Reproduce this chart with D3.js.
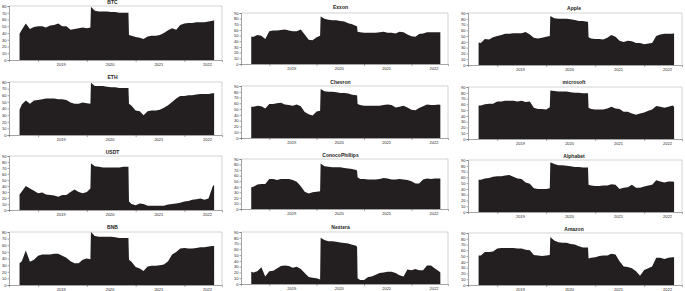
<!DOCTYPE html>
<html>
<head>
<meta charset="utf-8">
<script src="https://cdn.jsdelivr.net/npm/d3@7"></script>
<style>
  body { margin: 0; background: #fff; }
  svg { display: block; }
  text { font-family: "Liberation Sans", Arial, sans-serif; }
</style>
</head>
<body>
<div id="chart"></div>
<script>
// shared dates (monthly, plus the days round the two jumps)
var dates = ["2018-08-15","2018-09-01","2018-10-01","2018-11-01","2018-12-01",
  "2019-01-01","2019-02-01","2019-03-01","2019-04-01","2019-05-01","2019-06-01",
  "2019-07-01","2019-08-01","2019-09-01","2019-10-01","2019-11-01","2019-12-01",
  "2020-01-01","2020-01-28","2020-02-01",
  "2020-03-01","2020-04-01","2020-05-01","2020-06-01","2020-07-01","2020-08-01",
  "2020-09-01","2020-10-01","2020-11-01",
  "2020-11-08","2020-11-12",
  "2020-12-01","2021-01-01","2021-02-01","2021-03-01","2021-04-01","2021-05-01",
  "2021-06-01","2021-07-01","2021-08-01","2021-09-01","2021-10-01","2021-11-01","2021-12-01",
  "2022-01-01","2022-02-01","2022-03-01","2022-04-01","2022-05-01","2022-06-01",
  "2022-07-01","2022-08-01","2022-08-12"];

var btc = [39,45,54,46,49, 50,50,48,51,52,54,50,50,45,46,47,48, 47,48,79,
  73,72,72,72,71,71,70,70,70, 70,37, 36,34,33,31,35,36,36,37,40,44,47,45,52,
  54,55,55,56,56,56,57,58,59];
var eth = [38,46,52,47,52, 53,54,55,55,55,54,54,53,49,47,47,49, 48,47,79,
  74,74,74,73,72,72,71,71,71, 71,47, 44,37,36,30,36,37,37,38,41,45,50,55,59,
  59,60,60,61,62,62,62,63,63];
var usdt = [26,31,40,36,32, 28,29,26,25,24,22,25,25,30,34,30,28, 30,36,78,
  73,72,71,71,71,71,71,72,72, 72,14, 10,8,11,10,7,7,7,7,7,9,10,11,12,
  14,15,17,18,19,17,19,39,42];
var bnb = [33,36,52,35,38, 44,46,46,46,47,47,44,41,36,33,33,38, 40,39,80,
  74,73,73,73,73,72,71,71,71, 71,38, 35,27,25,21,28,29,29,30,31,36,46,50,55,
  56,55,55,56,57,57,58,59,59];
var exxon = [48,48,51,50,44, 58,59,59,60,61,59,58,58,61,52,43,42, 47,50,84,
  80,78,77,77,76,75,72,70,67, 66,57, 56,55,55,55,55,56,57,55,55,54,57,56,52,
  49,48,53,54,56,56,56,56,56];
var chevron = [54,54,56,55,51, 59,59,60,61,58,57,56,58,55,45,41,39, 46,47,85,
  81,80,80,79,78,78,77,75,74, 74,59, 57,56,56,56,56,56,57,58,57,53,54,56,53,
  49,48,52,55,58,57,57,58,57];
var conoco = [39,40,44,45,45, 54,54,52,54,54,54,52,49,41,31,28,30, 31,32,82,
  77,76,75,75,75,74,73,72,70, 69,57, 54,54,53,53,53,54,56,55,53,53,54,53,52,
  50,46,46,53,55,54,55,55,55];
var nextera = [21,20,22,29,13, 22,23,27,31,32,31,28,30,26,19,12,11, 10,8,80,
  76,74,74,73,72,71,70,68,66, 64,10, 7,7,12,13,16,19,20,21,21,19,15,13,25,
  24,26,24,24,32,32,27,22,20];
var apple = [39,38,45,44,48, 50,52,54,54,55,55,55,57,53,47,46,47, 49,50,85,
  81,80,80,80,79,78,76,76,75, 75,48, 46,45,45,44,47,52,49,42,40,42,41,38,38,
  36,37,38,50,53,54,54,54,55];
var microsoft = [58,58,60,61,61, 65,65,66,66,66,65,66,64,65,54,52,52, 51,55,84,
  83,82,82,82,81,80,80,79,79, 79,54, 52,51,51,51,53,56,53,52,47,47,44,42,44,
  46,49,51,57,56,54,56,58,56];
var alphabet = [56,56,58,59,61, 62,62,63,64,61,58,57,51,49,41,40,40, 40,41,86,
  83,81,81,80,79,78,78,77,77, 77,47, 46,45,45,46,46,48,47,40,42,43,47,42,42,
  44,46,47,55,53,51,53,53,52];
var amazon = [51,51,57,57,58, 63,64,64,64,64,63,63,61,60,52,51,50, 51,52,83,
  77,74,73,73,71,70,67,65,65, 65,46, 47,48,50,51,51,54,53,41,32,31,29,24,16,
  26,29,32,47,47,45,47,48,48];

var titles = ["BTC","ETH","USDT","BNB","Exxon","Chevron","ConocoPhillips","Nextera",
  "Apple","microsoft","Alphabet","Amazon"];
var series = [btc,eth,usdt,bnb,exxon,chevron,conoco,nextera,apple,microsoft,alphabet,amazon];
var yMaxes = [80,80,90,80, 90,90,90,90, 90,90,90,90];
var years = ["2019","2020","2021","2022"];

function init () {

    var w = 685;
    var h = 291;
    var fill = "#231f20";

    // layout: column x ranges and each panel's plot top / bottom
    var cols = [[9, 222], [241, 448], [468, 682]];
    var rows = [ [[6,60],[82,135],[156,210],[232,285]],
                 [[13,64],[86,138],[159,209],[232,284]],
                 [[13,65],[87,139],[160,212],[233,285]] ];
    var titleY = [ [4,79,154,229], [9,84,157,229], [10,84,158,231] ];

    var parse = d3.timeParse("%Y-%m-%d");
    var dd = dates.map(parse);
    var tickDates = years.map(function(y) { return new Date(+y, 0, 1); });
    var labelDates = years.map(function(y) { return new Date(+y, 5, 20); });

    var svg = d3.select("#chart")
                .append("svg")
                .attr("width", w)
                .attr("height", h);

    series.forEach(function(vals, i) {
        var c = Math.floor(i / 4);
        var r = i % 4;
        var top = rows[c][r][0];
        var bottom = rows[c][r][1];

        var xScale = d3.scaleTime()
                    .domain([new Date(2018, 4, 28), new Date(2022, 9, 10)])
                    .range(cols[c]);
        var yScale = d3.scaleLinear()
                    .domain([0, yMaxes[i]])
                    .range([bottom, top]);

        var g = svg.append("g");

        // frame (top and right)
        g.append("path")
            .attr("d", "M" + cols[c][0] + "," + top + "H" + cols[c][1] + "V" + bottom)
            .attr("fill", "none")
            .attr("stroke", "#b5b5b5")
            .attr("stroke-width", 0.6);

        var area = d3.area()
                    .x(function(d, k) { return xScale(dd[k]); })
                    .y0(yScale(0))
                    .y1(function(d) { return yScale(d); });

        g.append("path")
            .datum(vals)
            .attr("d", area)
            .attr("fill", fill);

        var yAxis = d3.axisLeft(yScale)
                    .tickValues(d3.range(0, yMaxes[i] + 1, 10))
                    .tickSize(1.5)
                    .tickPadding(1);
        var ya = g.append("g")
            .attr("transform", "translate(" + cols[c][0] + ",0)")
            .call(yAxis);

        var xTicks = d3.axisBottom(xScale)
                    .tickValues(tickDates)
                    .tickSize(2)
                    .tickFormat("");
        var xa = g.append("g")
            .attr("transform", "translate(0," + bottom + ")")
            .call(xTicks);

        var xLabels = d3.axisBottom(xScale)
                    .tickValues(labelDates)
                    .tickSize(0)
                    .tickPadding(3)
                    .tickFormat(d3.timeFormat("%Y"));
        var xl = g.append("g")
            .attr("transform", "translate(0," + bottom + ")")
            .call(xLabels);
        xl.select(".domain").remove();

        [ya, xa, xl].forEach(function(a) {
            a.selectAll(".domain").attr("stroke", "#666").attr("stroke-width", 0.6);
            a.selectAll("line").attr("stroke", "#666").attr("stroke-width", 0.6);
            a.selectAll("text").attr("font-size", "4px").attr("fill", "#222")
                .attr("font-family", "Liberation Sans, Arial, sans-serif");
        });

        g.append("text")
            .attr("x", (cols[c][0] + cols[c][1]) / 2 + (c == 2 ? -1 : (c == 1 ? -4 : -3)))
            .attr("y", titleY[c][r])
            .attr("text-anchor", "middle")
            .attr("font-size", "5px")
            .attr("font-weight", "bold")
            .attr("fill", "#222")
            .text(titles[i]);
    });
}
window.onload = init;
</script>
</body>
</html>
